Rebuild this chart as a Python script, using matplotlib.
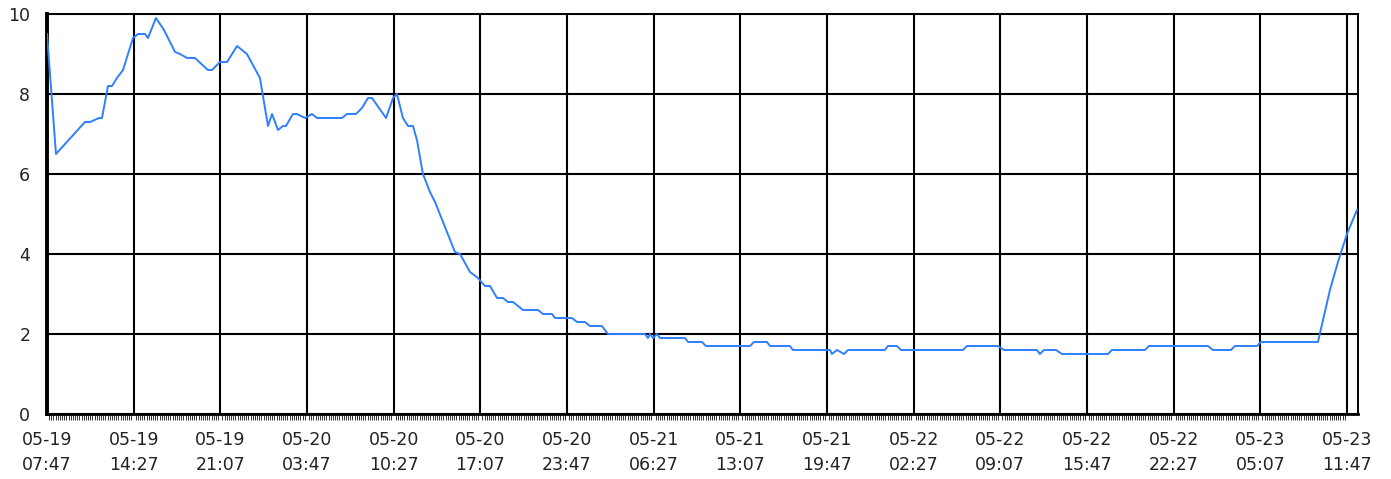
import matplotlib
matplotlib.use('Agg')
import matplotlib.pyplot as plt
import numpy as np

# hours since 05-19 07:47
hours = [0.0, 0.69, 2.92, 3.31, 4.0, 4.23, 4.69, 5.0, 5.38, 5.85, 6.23, 6.62, 7.0, 7.54,
         7.77, 8.38, 9.0, 9.85, 10.23, 10.77, 11.38, 12.38, 12.69, 13.31, 13.85, 14.62,
         15.38, 16.38, 17.0, 17.31, 17.77, 18.15, 18.38, 18.92, 19.23, 19.85, 20.38,
         20.77, 22.69, 23.08, 23.77, 24.23, 24.69, 25.0, 26.08, 26.62, 26.92, 27.38,
         27.77, 28.15, 28.46, 28.92, 29.46, 29.85, 30.77, 31.38, 31.77, 32.54, 33.15,
         33.69, 34.08, 34.62, 35.08, 35.46, 35.85, 36.23, 36.62, 37.77, 38.15, 38.85,
         39.08, 40.38, 40.77, 41.38, 41.77, 42.69, 43.15, 46.0, 46.23, 46.38, 46.62,
         46.92, 47.15, 49.08, 49.31, 50.38, 50.69, 54.08, 54.38, 55.38, 55.62, 57.15,
         57.38, 60.23, 60.38, 60.77, 61.31, 61.62, 64.46, 64.69, 65.38, 65.69, 70.46,
         70.77, 73.15, 73.62, 76.15, 76.38, 76.69, 77.62, 78.08, 81.62, 81.92, 84.46,
         84.77, 89.31, 89.69, 91.08, 91.38, 93.08, 93.38, 97.77, 98.69, 99.31, 100.0,
         100.77]
values = [9.5, 6.5, 7.3, 7.3, 7.4, 7.4, 8.2, 8.2, 8.4, 8.6, 9.0, 9.4, 9.5, 9.5,
          9.4, 9.9, 9.6, 9.05, 9.0, 8.9, 8.9, 8.6, 8.6, 8.8, 8.8, 9.2,
          9.0, 8.4, 7.2, 7.5, 7.1, 7.2, 7.2, 7.5, 7.5, 7.4, 7.5,
          7.4, 7.4, 7.5, 7.5, 7.65, 7.9, 7.9, 7.4, 7.9, 8.0, 7.4,
          7.2, 7.2, 6.85, 6.0, 5.55, 5.3, 4.55, 4.05, 4.0, 3.55, 3.4,
          3.2, 3.2, 2.9, 2.9, 2.8, 2.8, 2.7, 2.6, 2.6, 2.5, 2.5,
          2.4, 2.4, 2.3, 2.3, 2.2, 2.2, 2.0, 2.0, 1.9, 2.0, 1.9,
          2.0, 1.9, 1.9, 1.8, 1.8, 1.7, 1.7, 1.8, 1.8, 1.7, 1.7,
          1.6, 1.6, 1.5, 1.6, 1.5, 1.6, 1.6, 1.7, 1.7, 1.6, 1.6,
          1.7, 1.7, 1.6, 1.6, 1.5, 1.6, 1.6, 1.5, 1.5, 1.6, 1.6,
          1.7, 1.7, 1.6, 1.6, 1.7, 1.7, 1.8, 1.8, 3.1, 3.8, 4.5,
          5.1]

tick_labels = ['05-19\n07:47', '05-19\n14:27', '05-19\n21:07', '05-20\n03:47',
               '05-20\n10:27', '05-20\n17:07', '05-20\n23:47', '05-21\n06:27',
               '05-21\n13:07', '05-21\n19:47', '05-22\n02:27', '05-22\n09:07',
               '05-22\n15:47', '05-22\n22:27', '05-23\n05:07', '05-23\n11:47']
tick_step = 400 / 60.0   # 6h40m between labels

fig = plt.figure(figsize=(13.91, 4.79), dpi=100)
ax = fig.add_axes([47/1391, 1 - 414/479, (1358-47)/1391, 400/479])

ax.plot(hours, values, color='#2f7fff', lw=1.4, zorder=3)

ax.set_xlim(0, 100.85)
ax.set_ylim(0, 10)

ax.set_xticks([i * tick_step for i in range(len(tick_labels))])
ax.set_xticklabels(tick_labels, linespacing=1.5)
ax.set_xticks(np.arange(0, 100.01, 1/6.0), minor=True)
ax.set_yticks(range(0, 11, 2))

ax.grid(True, which='major', color='black', lw=1.5)
ax.tick_params(axis='x', which='major', length=0, pad=12, labelsize=12.5, labelcolor='#222222')
ax.tick_params(axis='x', which='minor', length=4, width=0.7, color='#333333')
ax.tick_params(axis='y', length=0, pad=12, labelsize=12.5, labelcolor='#222222')

ax.spines['left'].set_linewidth(2.8)
ax.spines['bottom'].set_linewidth(2.0)
ax.spines['top'].set_linewidth(1.4)
ax.spines['right'].set_linewidth(1.4)

plt.savefig('out.png', dpi=100)
